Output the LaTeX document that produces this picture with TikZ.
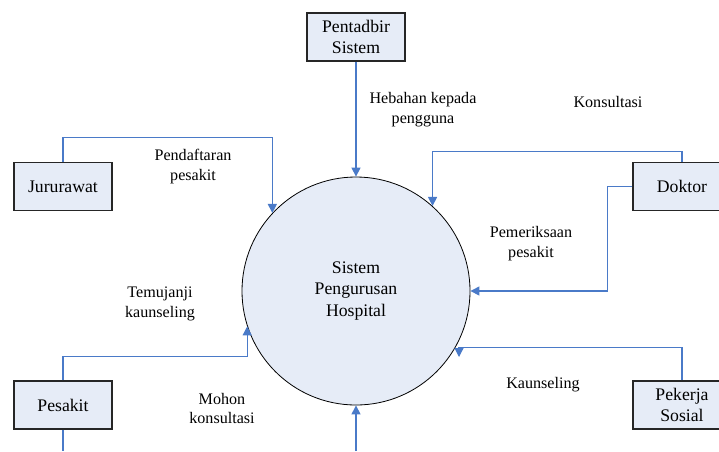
\documentclass[tikz,border=0pt]{standalone}
\usepackage{fontspec}
\setmainfont{LiberationSerif}[Extension=.ttf, UprightFont=*-Regular, BoldFont=*-Bold]
\usetikzlibrary{arrows.meta,calc}
\definecolor{boxfill}{RGB}{230,236,247}
\definecolor{flowblue}{RGB}{74,122,200}
\begin{document}
\begin{tikzpicture}[x=1pt,y=-1pt,
  entity/.style={draw=black!85, line width=1.3pt, fill=boxfill, minimum width=98pt, minimum height=48pt, inner sep=0pt, align=center, font=\fontsize{17.7}{21}\selectfont},
  process/.style={circle, draw=black, line width=0.8pt, fill=boxfill, minimum size=228pt, inner sep=0pt, align=center, font=\fontsize{17.7}{21.5}\selectfont},
  flow/.style={draw=flowblue, line width=1.2pt, -{Triangle[length=9pt,width=9pt]}},
  lbl/.style={align=center, inner sep=0pt, font=\fontsize{16.1}{19.5}\selectfont}]
  \useasboundingbox (0,0) rectangle (719,451);
  \node[process] (sys) at (356,291) {Sistem\\Pengurusan\\Hospital};
  \node[entity] (pent) at (356,37) {Pentadbir\\Sistem};
  \node[entity] (juru) at (63,186.5) {Jururawat};
  \node[entity] (dok) at (682,186.5) {Doktor};
  \node[entity] (pek) at (682,405) {Pekerja\\Sosial};
  \node[entity] (pes) at (63,405) {Pesakit};
  \coordinate (kaun) at (459,357);
  \coordinate (mohon1) at (63,451);
  \coordinate (mohon2) at (356,451);
  % flows into the system
  \draw[flow] (pent.south) -- (sys.north);
  \draw[flow] (juru.north) -- ++(0,-24) -| (sys.137.5);
  \draw[flow] (dok.north) -- ++(0,-10) -| (sys.48.2);
  \draw[flow] (dok.west) -- ++(-25,0) |- (sys.east);
  \draw[flow] (pek.north) -- ++(0,-33) -| (kaun);
  \draw[flow] (pes.north) -- ++(0,-24) -| (sys.198.7);
  \draw[flow, -] (pes.south) -- (mohon1);
  \draw[flow] (mohon2) -- (sys.south);
  % labels
  \node[lbl] (l1) at (193,166.5) {Pendaftaran\\pesakit};
  \node[lbl] (l2) at (423,109.5) {Hebahan kepada\\pengguna};
  \node[lbl] (l3) at (608,102) {Konsultasi};
  \node[lbl] (l4) at (531,243.5) {Pemeriksaan\\pesakit};
  \node[lbl] (l5) at (160,304) {Temujanji\\kaunseling};
  \node[lbl] (l6) at (222,408.5) {Mohon\\konsultasi};
  \node[lbl] (l7) at (543,385) {Kaunseling};
\end{tikzpicture}
\end{document}
